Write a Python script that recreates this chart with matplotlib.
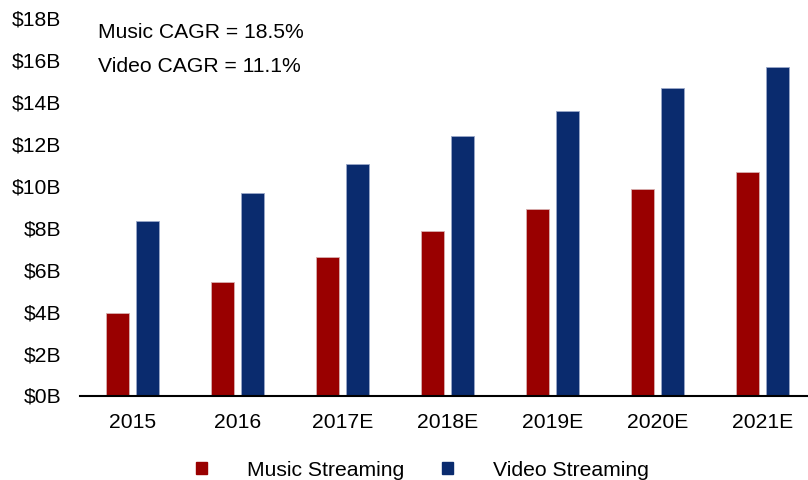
import matplotlib.pyplot as plt
import numpy as np
from matplotlib.patches import Patch

plt.rcParams['font.family'] = ['Liberation Sans', 'DejaVu Sans']

years = ['2015', '2016', '2017E', '2018E', '2019E', '2020E', '2021E']
music = [3.91, 5.42, 6.60, 7.83, 8.88, 9.83, 10.64]
video = [8.31, 9.64, 11.02, 12.36, 13.56, 14.68, 15.64]
y_ticks = [0, 2, 4, 6, 8, 10, 12, 14, 16, 18]
notes = ['Music CAGR = 18.5%', 'Video CAGR = 11.1%']

red = '#990000'
navy = '#0a2b6e'
fs = 15.2

fig = plt.figure(figsize=(8.08, 4.8), dpi=100)
# axes run a little past the right edge, as in the original
ax = fig.add_axes([80 / 808, 84.5 / 480, 735 / 808, 377.5 / 480])

x = np.arange(len(years))
w = 0.22
ax.bar(x - 0.144, music, w, color=red, edgecolor='#d8b0b0', linewidth=0.6)
ax.bar(x + 0.144, video, w, color=navy, edgecolor='#9aa8c8', linewidth=0.6)

ax.set_xlim(-0.5, len(years) - 0.5)
ax.set_ylim(0, 18)
ax.set_yticks(y_ticks)
ax.set_yticklabels(['$%dB' % v for v in y_ticks])
ax.set_xticks(x)
ax.set_xticklabels(years)
ax.tick_params(axis='both', length=0, labelsize=fs)
ax.tick_params(axis='x', pad=12.5)
ax.tick_params(axis='y', pad=13.5)
for s in ['top', 'right', 'left']:
    ax.spines[s].set_visible(False)
ax.spines['bottom'].set_linewidth(1.5)

ax.text(18 / 735, 1 - 14.5 / 377.5, notes[0], transform=ax.transAxes,
        fontsize=fs, va='center', ha='left')
ax.text(18 / 735, 1 - 49 / 377.5, notes[1], transform=ax.transAxes,
        fontsize=fs, va='center', ha='left')

handles = [Patch(color=red), Patch(color=navy)]
fig.legend(handles, ['Music Streaming', 'Video Streaming'], loc='center',
           bbox_to_anchor=(422.5 / 808, 1 - 470 / 480), ncol=2, frameon=False,
           fontsize=fs, handlelength=0.55, handleheight=0.55,
           handletextpad=1.9, columnspacing=1.75, borderpad=0)

fig.savefig('out.png', dpi=100)
